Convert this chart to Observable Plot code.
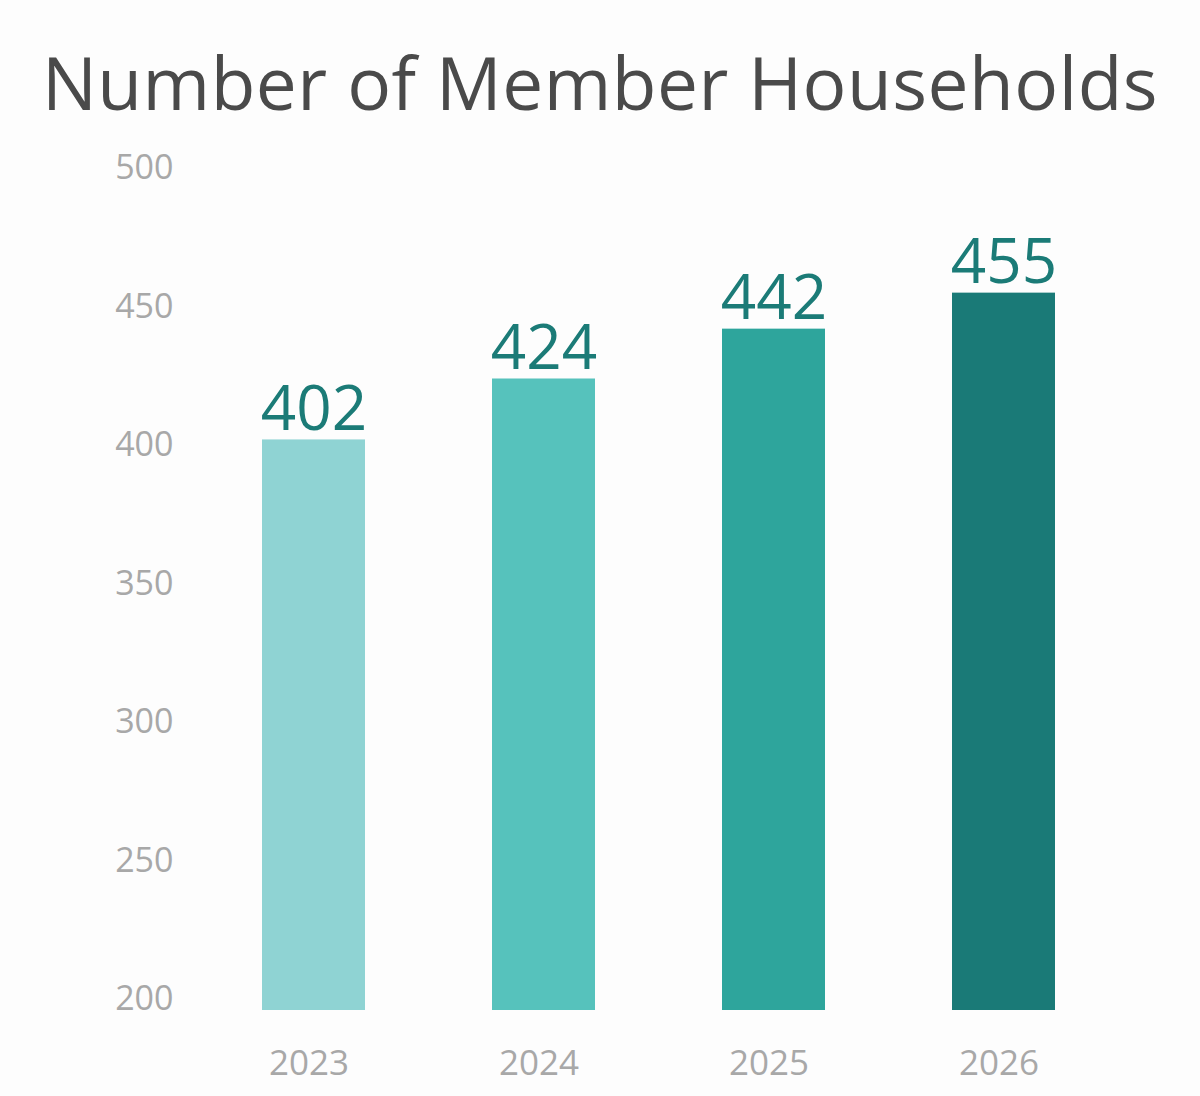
<!DOCTYPE html>
<html>
<head>
<meta charset="utf-8">
<script src="https://cdn.jsdelivr.net/npm/d3@7"></script>
<script src="https://cdn.jsdelivr.net/npm/@observablehq/plot@0.6"></script>
<style>
  html, body { margin: 0; padding: 0; background: #fdfdfd; }
  #title {
    height: 140px; box-sizing: border-box; padding-top: 45px;
    text-align: center; font-family: "Open Sans", sans-serif; font-size: 73px;
    color: #4a4a4a; line-height: 1; white-space: nowrap; letter-spacing: 0.5px;
  }
</style>
</head>
<body>
<div id="title">Number of Member Households</div>
<div id="chart"></div>
<script>
const years = ["2023", "2024", "2025", "2026"];
const households = [402, 424, 442, 455];
const barColors = ["#8fd3d3", "#56c2bc", "#2ea59c", "#1a7a77"];
const yTicks = [200, 250, 300, 350, 400, 450, 500];

const data = years.map((year, i) => ({year, value: households[i], color: barColors[i]}));

const chart = Plot.plot({
  width: 1200,
  height: 956,
  marginTop: 28,
  marginBottom: 86,
  marginLeft: 199,
  marginRight: 81,
  style: {background: "transparent", fontFamily: "'Open Sans', sans-serif"},
  x: {domain: years, paddingInner: 0.552, paddingOuter: 0.276, label: null},
  y: {domain: [196, 500], label: null},
  marks: [
    Plot.barY(data, {x: "year", y1: 196, y2: "value", fill: "color"}),
    Plot.text(data, {x: "year", y: "value", text: d => String(d.value), lineAnchor: "bottom", dy: -10,
      fill: "#1b7b77", fontSize: 62, fontFamily: "'Open Sans', sans-serif"}),
    Plot.axisY({ticks: yTicks, tickSize: 0, tickPadding: 26, fontSize: 34, color: "#a8a8a8", label: null}),
    Plot.axisX({tickSize: 0, tickPadding: 40, fontSize: 35, dx: -5, color: "#a8a8a8", label: null})
  ]
});
document.getElementById("chart").appendChild(chart);
</script>
</body>
</html>
